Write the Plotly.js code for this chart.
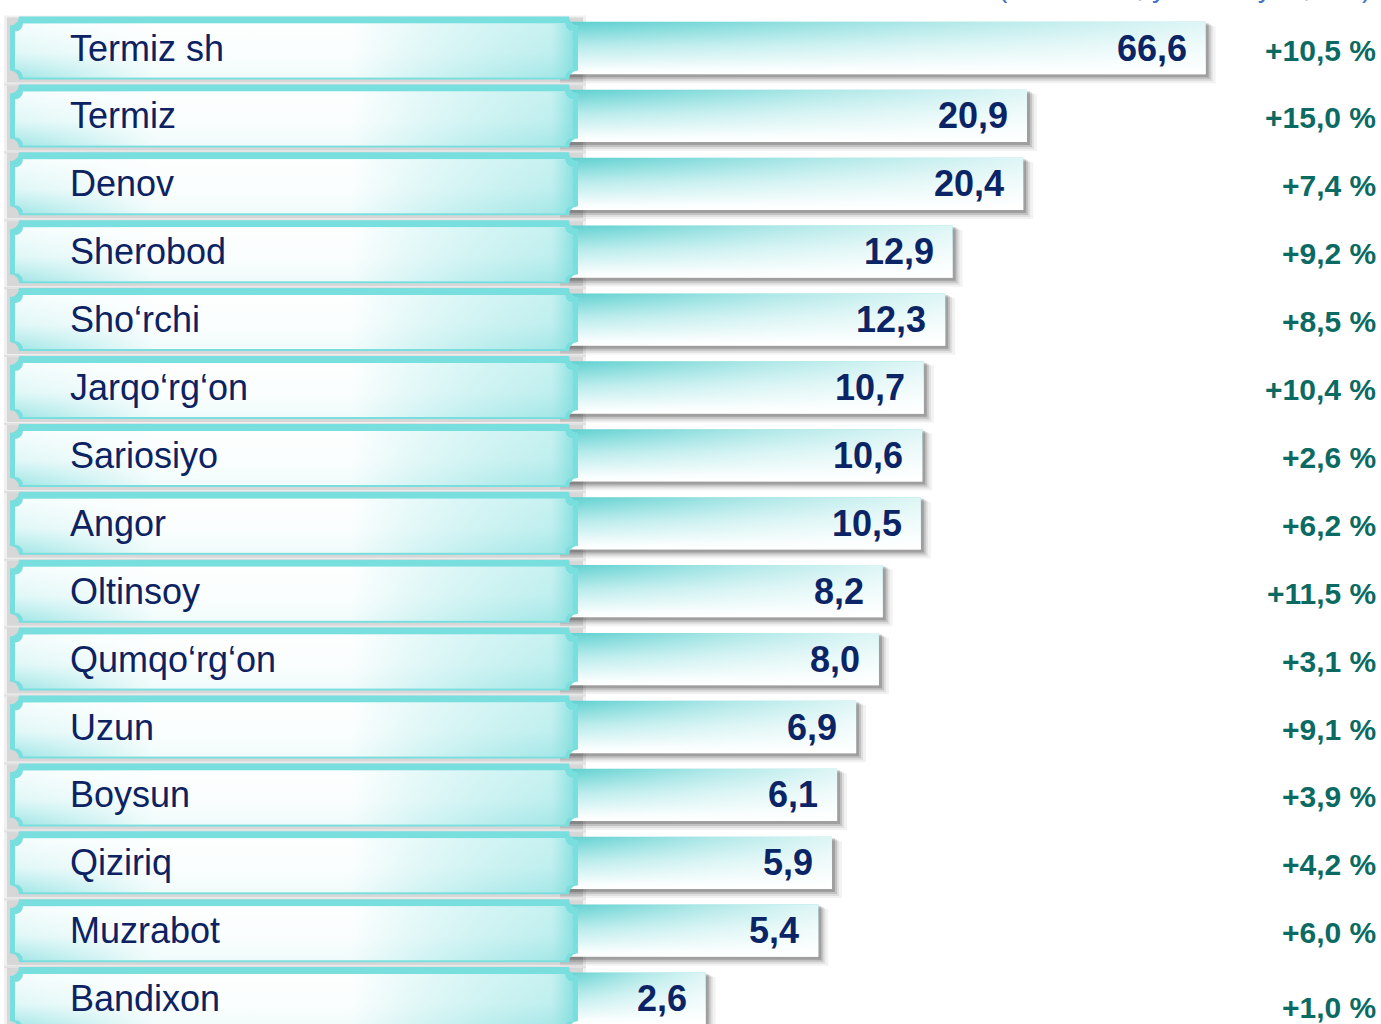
<!DOCTYPE html>
<html><head><meta charset="utf-8">
<script src="https://cdn.plot.ly/plotly-3.0.1.min.js"></script>
<style>html,body{margin:0;padding:0;background:#fff;overflow:hidden}#chart{width:1381px;height:1024px}</style>
</head><body><div id="chart"></div>
<script>
// ---- data ----
const districts = ["Termiz sh","Termiz","Denov","Sherobod","Sho‘rchi","Jarqo‘rg‘on","Sariosiyo","Angor","Oltinsoy","Qumqo‘rg‘on","Uzun","Boysun","Qiziriq","Muzrabot","Bandixon"];
const values = [66.6,20.9,20.4,12.9,12.3,10.7,10.6,10.5,8.2,8.0,6.9,6.1,5.9,5.4,2.6];
const growth = [10.5,15.0,7.4,9.2,8.5,10.4,2.6,6.2,11.5,3.1,9.1,3.9,4.2,6.0,1.0];
const subtitle = "(mlrd. so‘m, yanvar–iyun, foiz)";

// ---- layout constants ----
const W=1381, H=1024, ROW0=48, PITCH=67.9;
const S=355, LB=0.047, BAR0=575;          // log-axis scale (px per decade), start
const L0 = LB - BAR0/S, L1 = L0 + W/S;
const BASE = Math.pow(10, L0 + 560/S);     // bars start hidden behind label boxes
const yTop = -ROW0/PITCH, yBot = (H-ROW0)/PITCH;
const HB = 0.385;                           // bar half height (rows)
const BOXH = 31.5;                          // box half height px
const fmt = v => v.toFixed(1).replace('.', ',');
const py2y = py => (py-ROW0)/PITCH;
const pxMul = dx => Math.pow(10, dx/S);     // pixel offset on the log axis
const FONT = "Liberation Sans, Arial, sans-serif";

function ticket(x0,y0,x1,y1,r){
  const xs=[],ys=[],n=8;
  const arc=(cx,cy,a0,a1)=>{for(let k=0;k<=n;k++){const a=a0+(a1-a0)*k/n;xs.push(cx+r*Math.cos(a));ys.push(cy+r*Math.sin(a));}};
  arc(x1,y0,Math.PI,Math.PI/2);
  arc(x1,y1,-Math.PI/2,-Math.PI);
  arc(x0,y1,0,-Math.PI/2);
  arc(x0,y0,Math.PI/2,0);
  xs.push(xs[0]); ys.push(ys[0]);
  return {x:xs, y:ys.map(py2y)};
}

const traces=[], shapes=[], annotations=[];
const base = {type:'scatter', mode:'lines', fill:'toself', line:{width:0}, hoverinfo:'skip', showlegend:false};
const shadowSteps = [[10,9,0.05],[7,7,0.08],[5,5,0.13],[3,3,0.18]];

// bar shadows (behind bars)
values.forEach((v,i)=>{
  shadowSteps.forEach(([dx,dy,a])=>{
    const xr = v*pxMul(dx), yt = i-HB+(dy/2)/PITCH, yb = i+HB+dy/PITCH;
    traces.push(Object.assign({}, base, {x:[BASE,xr,xr,BASE,BASE], y:[yt,yt,yb,yb,yt], xaxis:'x', yaxis:'y',
      fillcolor:'rgba(0,0,0,'+a+')'}));
  });
});
// bars
values.forEach((v,i)=>{
  const bx=[BASE,v,v,BASE,BASE], by=[i-HB,i-HB,i+HB,i+HB,i-HB];
  traces.push(Object.assign({}, base, {x:bx, y:by, xaxis:'x', yaxis:'y',
    fillgradient:{type:'vertical',
      colorscale:[[0,'#ffffff'],[0.08,'#fafefe'],[0.55,'#b4eaea'],[1,'#5acfcf']]}}));
  traces.push(Object.assign({}, base, {x:bx, y:by, xaxis:'x', yaxis:'y',
    fillgradient:{type:'horizontal',
      colorscale:[[0,'rgba(255,255,255,0)'],[0.55,'rgba(255,255,255,0.5)'],[1,'rgba(255,255,255,0.8)']]}}));
});

districts.forEach((d,i)=>{
  const cy = ROW0 + PITCH*i;
  const t=cy-BOXH, b=cy+BOXH;
  [[4,586,-1,6,0.06],[7,583,1,3,0.10]].forEach(([x0,x1,d0,d1,a])=>{
    shapes.push({type:'rect', layer:'below', xref:'x2', yref:'y', x0:x0, x1:x1, y0:py2y(t+d0), y1:py2y(b+d1),
      fillcolor:'rgba(0,0,0,'+a+')', line:{width:0}});
  });
  const o = ticket(10,t,578,b,9);
  traces.push(Object.assign({}, base, {x:o.x, y:o.y, xaxis:'x2', yaxis:'y', fillcolor:'#79dede'}));
  const inr = ticket(15,t+7,573,b-2,8);
  traces.push(Object.assign({}, base, {x:inr.x, y:inr.y, xaxis:'x2', yaxis:'y',
    fillgradient:{type:'vertical',
      colorscale:[[0,'#a2e6e6'],[0.45,'#e0f7f7'],[1,'#f6fdfd']]}}));
  traces.push(Object.assign({}, base, {x:inr.x, y:inr.y, xaxis:'x2', yaxis:'y',
    fillgradient:{type:'horizontal',
      colorscale:[[0,'rgba(255,255,255,0)'],[0.25,'rgba(255,255,255,0.85)'],[0.6,'rgba(255,255,255,0.85)'],[0.96,'rgba(170,233,233,0.6)'],[1,'rgba(130,222,222,0.9)']]}}));
  annotations.push({xref:'x2', yref:'y', x:68, y:i, xanchor:'left', yanchor:'middle', showarrow:false,
    text:d, font:{family:FONT, size:36, color:'#0c2262'}});
});

values.forEach((v,i)=>{
  annotations.push({xref:'x', yref:'y', x:Math.log10(v), y:i, xanchor:'right', yanchor:'middle', xshift:-17, showarrow:false,
    text:fmt(v), font:{family:FONT, size:36, color:'#0b2466', weight:700}});
});
growth.forEach((g,i)=>{
  annotations.push({xref:'paper', yref:'y', x:1, y:i, xanchor:'right', yanchor:'middle', xshift:-3,
    yshift: i===growth.length-1 ? -9 : -2, showarrow:false,
    text:'+'+fmt(g)+' %', font:{family:FONT, size:30, color:'#0b6a62', weight:700}});
});
annotations.push({xref:'paper', yref:'paper', x:1, y:1, xanchor:'right', yanchor:'bottom', xshift:-8, yshift:-5, showarrow:false,
  text:subtitle, font:{family:FONT, size:28, color:'#4472c4'}});

const layout = {
  width:W, height:H, margin:{l:0,r:0,t:0,b:0}, showlegend:false,
  paper_bgcolor:'#ffffff', plot_bgcolor:'#ffffff',
  xaxis:{type:'log', range:[L0,L1], visible:false, fixedrange:true},
  xaxis2:{overlaying:'x', anchor:'y', range:[0,W], visible:false, fixedrange:true},
  yaxis:{range:[yBot,yTop], visible:false, fixedrange:true},
  shapes, annotations
};
Plotly.newPlot('chart', traces, layout, {staticPlot:true, displayModeBar:false});
</script></body></html>
